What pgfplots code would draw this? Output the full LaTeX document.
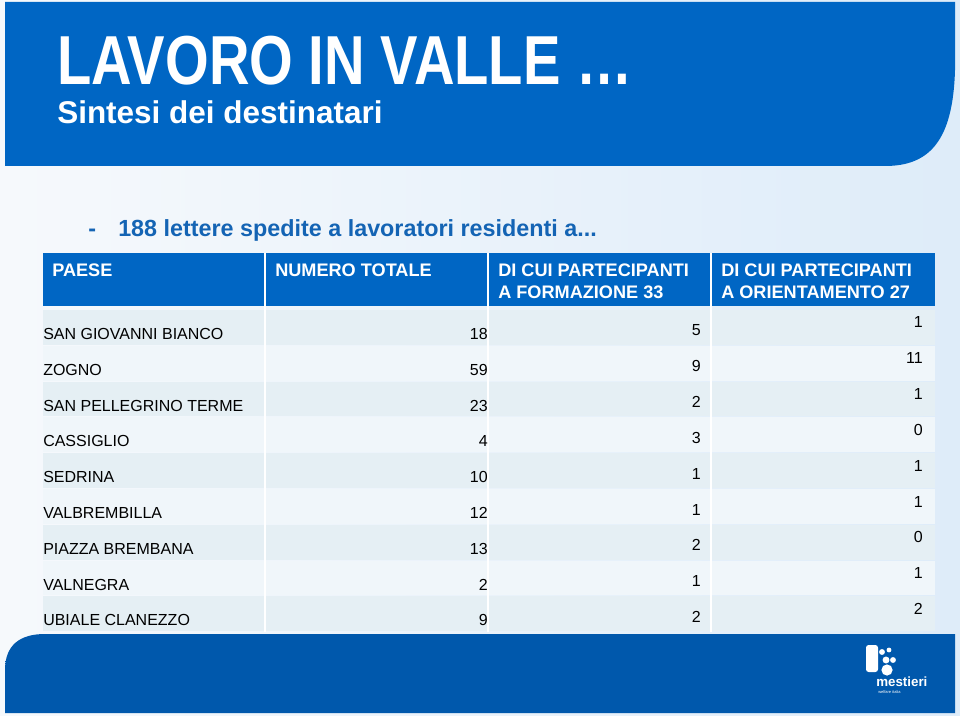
\documentclass[border=0pt]{standalone}
\usepackage{pgfplots}
\pgfplotsset{compat=1.18}
\usepackage{pgfplotstable}
\usepackage{fontspec}
\setmainfont{Liberation Sans}
\newfontfamily\titlefont{Liberation Sans}[FakeStretch=0.81]
\definecolor{bblue}{RGB}{0,102,196}
\definecolor{bbluedark}{RGB}{0,88,172}
\definecolor{bgleft}{RGB}{246,249,252}
\definecolor{bgright}{RGB}{222,236,249}
\definecolor{rowA}{RGB}{229,239,244}
\definecolor{rowB}{RGB}{240,246,250}
\definecolor{bullblue}{RGB}{20,100,180}

\pgfplotstableread[col sep=comma]{
top,name,tot,form,orient
310,SAN GIOVANNI BIANCO,18,5,1
345.8,ZOGNO,59,9,11
381.6,SAN PELLEGRINO TERME,23,2,1
417.4,CASSIGLIO,4,3,0
453.2,SEDRINA,10,1,1
489,VALBREMBILLA,12,1,1
524.8,PIAZZA BREMBANA,13,2,0
560.6,VALNEGRA,2,1,1
596.4,UBIALE CLANEZZO,9,2,2
}\datatable

\begin{document}
\begin{tikzpicture}
\begin{axis}[x=0.75pt, y=0.75pt, y dir=reverse, xmin=0, xmax=960, ymin=0, ymax=716,
  hide axis, scale only axis, clip=false]
% background
\shade[left color=bgleft, right color=bgright] (axis cs:0,0) rectangle (axis cs:960,716);
% top banner
\shade[left color=bblue, middle color=bbluedark, right color=bblue]
  (axis cs:5,2) -- (axis cs:955,2) -- (axis cs:955,70)
  .. controls (axis cs:953,140) and (axis cs:930,166) .. (axis cs:885,166)
  -- (axis cs:5,166) -- cycle;
\node[anchor=base west, inner sep=0pt, text=white, font=\titlefont\bfseries\fontsize{52}{60}\selectfont]
  at (axis cs:57,85) {LAVORO IN VALLE \dots};
\node[anchor=base west, inner sep=0pt, text=white, font=\bfseries\fontsize{23.6}{28}\selectfont]
  at (axis cs:57,124) {Sintesi dei destinatari};
% bullet line
\node[anchor=base west, inner sep=0pt, text=bullblue, font=\bfseries\fontsize{17.5}{21}\selectfont]
  at (axis cs:88,237) {-};
\node[anchor=base west, inner sep=0pt, text=bullblue, font=\bfseries\fontsize{17.5}{21}\selectfont]
  at (axis cs:118,237) {188 lettere spedite a lavoratori residenti a...};
% table header
\fill[bblue] (axis cs:43,253) rectangle (axis cs:935,306);
% rows
\fill[rowA] (axis cs:43,310) rectangle (axis cs:935,344.8);
\fill[rowB] (axis cs:43,345.8) rectangle (axis cs:935,380.6);
\fill[rowA] (axis cs:43,381.6) rectangle (axis cs:935,416.4);
\fill[rowB] (axis cs:43,417.4) rectangle (axis cs:935,452.2);
\fill[rowA] (axis cs:43,453.2) rectangle (axis cs:935,488);
\fill[rowB] (axis cs:43,489) rectangle (axis cs:935,523.8);
\fill[rowA] (axis cs:43,524.8) rectangle (axis cs:935,559.6);
\fill[rowB] (axis cs:43,560.6) rectangle (axis cs:935,595.4);
\fill[rowA] (axis cs:43,596.4) rectangle (axis cs:935,631.2);
\draw[white, line width=1.5pt] (axis cs:265,253) -- (axis cs:265,632);
\draw[white, line width=1.5pt] (axis cs:488,253) -- (axis cs:488,632);
\draw[white, line width=1.5pt] (axis cs:711,253) -- (axis cs:711,632);
% header text
\node[anchor=base west, inner sep=0pt, text=white, font=\bfseries\fontsize{13.6}{16}\selectfont] at (axis cs:52,277) {PAESE};
\node[anchor=base west, inner sep=0pt, text=white, font=\bfseries\fontsize{13.6}{16}\selectfont] at (axis cs:275,277) {NUMERO TOTALE};
\node[anchor=base west, inner sep=0pt, text=white, font=\bfseries\fontsize{13.6}{16}\selectfont] at (axis cs:498,277) {DI CUI PARTECIPANTI};
\node[anchor=base west, inner sep=0pt, text=white, font=\bfseries\fontsize{13.6}{16}\selectfont] at (axis cs:498,299) {A FORMAZIONE 33};
\node[anchor=base west, inner sep=0pt, text=white, font=\bfseries\fontsize{13.6}{16}\selectfont] at (axis cs:721,277) {DI CUI PARTECIPANTI};
\node[anchor=base west, inner sep=0pt, text=white, font=\bfseries\fontsize{13.6}{16}\selectfont] at (axis cs:721,299) {A ORIENTAMENTO 27};
% data
\addplot[draw=none, mark=none, nodes near coords, point meta=explicit symbolic,
  every node near coord/.append style={anchor=base west, inner sep=0pt, text=black, font=\fontsize{12}{14}\selectfont}]
  table[x expr=43, y expr=\thisrow{top}+29.5, meta=name] {\datatable};
\addplot[draw=none, mark=none, nodes near coords, point meta=explicit symbolic,
  every node near coord/.append style={anchor=base east, inner sep=0pt, text=black, font=\fontsize{12}{14}\selectfont}]
  table[x expr=488, y expr=\thisrow{top}+29.5, meta=tot] {\datatable};
\addplot[draw=none, mark=none, nodes near coords, point meta=explicit symbolic,
  every node near coord/.append style={anchor=base east, inner sep=0pt, text=black, font=\fontsize{12}{14}\selectfont}]
  table[x expr=701, y expr=\thisrow{top}+26, meta=form] {\datatable};
\addplot[draw=none, mark=none, nodes near coords, point meta=explicit symbolic,
  every node near coord/.append style={anchor=base east, inner sep=0pt, text=black, font=\fontsize{12}{14}\selectfont}]
  table[x expr=923, y expr=\thisrow{top}+18, meta=orient] {\datatable};
% bottom banner
\shade[left color=bbluedark, middle color=bblue, right color=bbluedark]
  (axis cs:5,713) -- (axis cs:5,670) .. controls (axis cs:5,645) and (axis cs:20,634) .. (axis cs:45,634)
  -- (axis cs:955,634) -- (axis cs:955,713) -- cycle;
% logo
\fill[white, rounded corners=2pt] (axis cs:866,645) rectangle (axis cs:878,672);
\fill[white] (axis cs:882,652) circle[radius=2.2pt];
\fill[white] (axis cs:889,650) circle[radius=1.8pt];
\fill[white] (axis cs:886,660) circle[radius=2.6pt];
\fill[white] (axis cs:893,660) circle[radius=2.2pt];
\fill[white] (axis cs:887,670) circle[radius=4.2pt];
\node[anchor=base west, inner sep=0pt, text=white, font=\bfseries\fontsize{10}{12}\selectfont] at (axis cs:876,686) {mestieri};
\node[anchor=base west, inner sep=0pt, text=white, font=\fontsize{3}{4}\selectfont] at (axis cs:878,693) {welfare italia};
\end{axis}
\end{tikzpicture}
\end{document}
